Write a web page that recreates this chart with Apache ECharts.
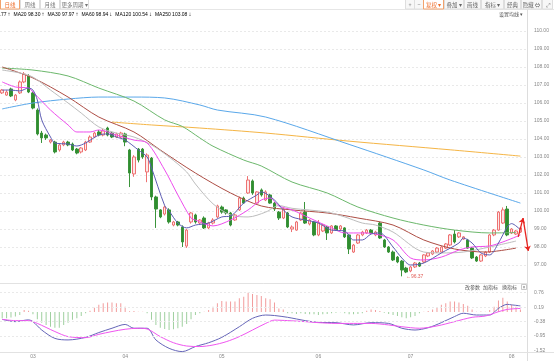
<!DOCTYPE html>
<html><head><meta charset="utf-8">
<script src="https://cdn.jsdelivr.net/npm/echarts@6/dist/echarts.min.js"></script>
<style>html,body{margin:0;padding:0;background:#fff;overflow:hidden}#c{width:554px;height:361px}</style>
</head><body><div id="c"></div>
<script>
// ---------- DATA ----------
const N = 120; // category slots (last one empty)
const opens  = [106.56,106.44,106.78,106.17,106.56,107.17,107.50,106.56,105.61,104.33,104.22,103.83,103.83,103.39,103.67,103.83,103.72,103.44,103.28,103.39,103.83,104.11,104.39,104.22,104.61,104.33,104.11,104.11,104.28,103.39,102.06,103.44,103.44,102.17,102.94,100.78,100.06,99.83,100.06,99.22,99.39,99.11,98.05,99.39,99.78,99.33,99.61,99.06,99.33,99.67,100.22,100.06,99.89,99.50,100.06,100.72,101.00,101.67,100.44,101.17,100.61,100.89,100.44,99.94,99.61,99.89,99.00,98.94,99.50,99.94,99.28,99.39,98.67,98.89,99.11,98.78,99.17,99.00,99.06,98.67,97.72,98.22,98.67,98.78,98.94,98.67,99.33,98.39,98.00,97.72,97.44,97.22,96.83,96.67,96.89,97.11,97.17,97.50,97.61,97.72,97.72,97.94,98.11,98.72,98.56,98.44,98.39,97.94,97.44,97.22,97.50,97.72,98.67,98.94,99.33,100.11,98.78,98.72,98.83];
const closes = [106.72,106.61,106.39,106.44,107.17,107.61,106.61,105.72,104.28,104.06,104.06,103.94,103.28,103.67,103.83,103.67,103.39,103.22,103.50,103.83,104.11,104.33,104.22,104.45,104.22,104.11,104.28,104.33,103.83,102.11,103.00,102.83,103.00,103.11,100.78,100.11,99.67,100.22,99.39,99.39,99.22,98.28,98.94,99.89,99.39,99.50,99.06,99.33,99.50,100.28,99.94,99.89,99.22,99.78,100.72,100.44,101.72,101.00,101.06,100.89,101.06,100.44,100.11,99.61,100.11,99.11,99.11,99.39,99.89,99.33,99.50,98.67,99.33,99.22,98.78,99.17,98.94,99.17,98.56,97.89,98.11,98.67,98.83,98.94,98.78,98.83,98.50,98.00,97.72,97.28,97.17,96.72,96.61,96.89,97.11,96.94,97.56,97.67,97.78,97.94,98.00,98.17,98.67,98.28,98.78,98.56,97.94,97.39,97.22,97.56,97.72,98.67,98.94,99.94,100.06,98.67,99.00,98.89,99.06];
const lows   = [106.50,106.40,106.33,106.10,106.50,107.10,106.55,105.65,104.20,103.78,103.95,103.75,103.20,103.30,103.60,103.60,103.33,103.15,103.20,103.33,103.78,104.05,104.15,104.15,104.15,104.05,104.05,104.05,103.60,101.33,101.90,102.70,102.90,101.60,100.60,99.06,99.60,99.75,99.30,99.15,99.15,98.00,97.95,99.30,99.30,99.25,99.00,99.00,99.25,99.60,99.85,99.80,99.15,99.45,100.00,100.40,100.95,100.90,100.40,100.80,100.55,100.40,100.00,99.50,99.55,99.05,98.83,98.90,99.45,99.28,99.20,98.60,98.60,98.83,98.39,98.72,98.90,98.94,98.50,97.61,97.67,98.17,98.60,98.72,98.72,98.60,98.45,97.95,97.67,97.22,97.10,96.37,96.55,96.60,96.83,96.89,97.10,97.44,97.55,97.67,97.67,97.89,98.05,98.20,98.50,98.40,97.90,97.33,97.17,97.17,97.44,97.67,98.60,98.90,99.28,98.60,98.72,98.67,98.78];
const highs  = [106.78,106.70,106.85,106.50,107.25,107.72,107.60,106.65,105.70,104.45,104.30,104.00,103.90,103.75,103.90,103.90,103.80,103.50,103.55,103.90,104.20,104.40,104.50,104.56,104.68,104.40,104.35,104.40,104.35,103.45,103.10,103.50,103.50,103.20,103.00,100.85,100.10,100.30,100.15,99.45,99.45,99.20,99.00,99.95,99.85,99.55,99.70,99.40,99.60,100.35,100.30,100.10,99.95,99.85,100.80,100.80,101.94,101.75,101.10,101.25,101.15,100.95,100.50,100.00,100.15,99.95,99.20,99.45,99.95,100.50,99.55,99.45,99.50,99.28,99.17,99.22,99.22,99.22,99.10,98.72,98.17,98.72,98.90,99.00,99.00,98.90,99.40,98.45,98.05,97.80,97.50,97.28,96.90,96.95,97.17,97.17,97.60,97.72,97.83,98.00,98.05,98.22,98.72,98.94,98.83,98.60,98.45,98.00,97.50,97.60,97.78,98.72,99.00,100.00,100.20,100.28,99.05,98.95,99.10];

// moving averages: [candle index, value]
const ma5   = [[0,106.72],[2,106.72],[4,106.67],[6,106.83],[7,106.72],[8,106.17],[9,105.06],[11,104.11],[12,103.78],[15,103.72],[17,103.61],[19,103.78],[22,104.22],[24,104.28],[26,104.11],[28,103.94],[31,103.39],[33,103.0],[34,102.4],[37,100.3],[38,100.0],[40,99.33],[42,99.06],[44,99.22],[47,99.33],[50,99.67],[52,99.72],[55,100.44],[58,100.89],[59,101.06],[62,100.61],[64,100.06],[66,99.67],[69,99.5],[72,99.33],[75,98.94],[78,98.89],[80,98.39],[82,98.39],[84,98.72],[86,98.78],[89,98.0],[91,97.39],[93,97.0],[96,97.11],[100,97.67],[104,98.22],[105,98.5],[107,98.22],[109,97.67],[111,97.56],[113,98.22],[115,99.11],[116,99.3],[118,98.95]];
const ma10  = [[0,107.17],[3,106.89],[6,106.83],[7,106.61],[11,105.61],[15,104.78],[17,104.39],[20,104.39],[22,104.5],[26,104.22],[30,103.94],[33,103.78],[37,102.28],[40,100.89],[43,99.61],[44,99.5],[48,99.17],[52,99.5],[56,100.06],[59,100.61],[61,100.72],[63,100.28],[66,100.06],[70,99.61],[75,99.06],[78,98.78],[82,98.78],[85,98.72],[89,98.39],[93,97.39],[96,97.28],[100,97.44],[104,97.83],[107,98.0],[111,98.06],[114,98.28],[118,98.67]];
const ma20  = [[0,107.83],[4,107.67],[7,107.44],[11,106.72],[15,106.0],[18,105.44],[22,104.67],[26,104.33],[30,104.11],[34,103.67],[38,103.0],[42,102.17],[44,101.5],[48,100.4],[52,99.78],[56,99.67],[60,99.94],[63,100.3],[66,100.15],[74,99.94],[78,99.67],[82,99.33],[85,99.22],[89,98.83],[96,97.72],[100,97.67],[105,97.72],[111,98.0],[117,98.33]];
const ma30  = [[0,108.0],[7,107.39],[15,106.33],[22,105.22],[30,104.39],[36,103.39],[44,102.11],[52,101.0],[59,100.28],[66,100.06],[74,99.89],[81,99.61],[89,99.22],[96,98.39],[103,97.89],[110,97.72],[117,97.94]];
const ma60  = [[0,107.94],[7,107.83],[15,107.5],[22,106.83],[30,106.11],[37,105.06],[41,104.7],[45,104.06],[48,103.6],[55,102.83],[59,102.5],[66,101.61],[74,101.0],[81,100.22],[89,99.61],[96,99.22],[103,98.94],[111,98.78],[117,98.8]];
const ma120 = [[0,105.67],[7,106.0],[15,106.22],[22,106.33],[30,106.33],[37,106.28],[45,105.89],[49,105.61],[60,105.22],[79,103.7],[96,102.28],[102,101.72],[118,100.44]];
const ma250 = [[25,104.94],[34,104.78],[45,104.61],[60,104.33],[79,103.88],[102,103.4],[118,103.05]];

// legend (latest MA values shown in the header)
const legendNames  = ['MA10','MA20','MA30','MA60','MA120','MA250'];
const legendValues = [98.77, 98.30, 97.97, 98.94, 100.54, 103.08];
const legendDirs   = ['↑','↑','↑','↓','↓','↓'];

// MACD
const macdHist = [-0.25,-0.25,-0.22,-0.18,-0.12,0.08,0.05,-0.09,-0.29,-0.42,-0.51,-0.58,-0.62,-0.62,-0.51,-0.42,-0.31,-0.25,-0.16,-0.05,0.05,0.17,0.28,0.34,0.37,0.37,0.34,0.34,0.21,0.03,0.04,0.01,0.01,-0.05,-0.31,-0.51,-0.62,-0.67,-0.71,-0.68,-0.64,-0.58,-0.47,-0.29,-0.12,-0.05,0.01,0.08,0.21,0.34,0.43,0.41,0.41,0.41,0.54,0.60,0.76,0.71,0.67,0.63,0.54,0.50,0.37,0.14,0.10,-0.05,-0.05,-0.08,-0.05,-0.08,-0.09,-0.09,-0.12,-0.09,-0.08,-0.05,-0.03,-0.01,-0.05,-0.09,-0.09,-0.08,-0.05,0.05,0.10,0.08,0.04,-0.03,-0.08,-0.12,-0.16,-0.21,-0.25,-0.21,-0.16,-0.05,0.01,0.04,0.10,0.18,0.28,0.34,0.41,0.41,0.37,0.31,0.24,0.10,0.01,0.02,0.01,0.08,0.21,0.45,0.56,0.41,0.28,0.21,0.10];
const dif = [[0,-0.29],[3,-0.38],[6,-0.31],[7,-0.38],[9,-0.71],[12,-1.04],[15,-1.10],[19,-1.0],[22,-0.81],[25,-0.64],[28,-0.49],[30,-0.64],[33,-0.64],[35,-1.10],[38,-1.43],[41,-1.56],[44,-1.36],[47,-1.21],[50,-1.0],[54,-0.58],[57,-0.25],[60,-0.12],[62,-0.14],[65,-0.21],[69,-0.34],[72,-0.41],[76,-0.42],[80,-0.51],[84,-0.42],[88,-0.45],[91,-0.64],[94,-0.71],[97,-0.62],[100,-0.42],[103,-0.18],[105,-0.05],[108,-0.12],[111,-0.12],[113,0.14],[115,0.30],[116,0.28],[118,0.24]];
const dea = [[0,-0.29],[3,-0.34],[6,-0.34],[8,-0.45],[12,-0.77],[15,-0.97],[19,-1.01],[22,-0.88],[25,-0.77],[28,-0.68],[31,-0.64],[33,-0.67],[36,-0.97],[39,-1.21],[42,-1.34],[45,-1.36],[48,-1.30],[51,-1.17],[54,-0.97],[57,-0.71],[60,-0.45],[62,-0.32],[65,-0.34],[69,-0.38],[72,-0.42],[76,-0.45],[80,-0.45],[84,-0.45],[88,-0.51],[91,-0.58],[95,-0.64],[99,-0.55],[103,-0.38],[107,-0.21],[110,-0.16],[113,0.01],[115,0.10],[118,0.14]];
const macdTicks = [0.76, 0.19, -0.38, -0.95, -1.52];

// x-axis month labels
const monthIdx = [7, 28, 50, 72, 93, 116];
const monthLabels = ['03','04','05','06','07','08'];

// hand-drawn red arrow (candle-index position, price)
const arrowX = [117.5, 118.6, 119.8];
const arrowY = [98.56, 99.6, 97.78];

// toolbar texts
const leftTabs = ['日线','周线','月线','更多周期 ▾'];
const rightTools = ['+','−','复权 ▾','叠加 ▾','画线','指标 ▾','经典','隐藏 ⇔','⤢'];
const bottomTools = ['改参数','加指标','换指标'];

// ---------- CHART ----------
const FONT = '"Liberation Sans", Arial, "Noto Sans CJK SC", sans-serif';
const CJK = '"Noto Sans CJK SC", "Liberation Sans", sans-serif';
const categories = opens.map((_, i) => String(i)).concat(['e']);
const maColors = {ma5:'#5d5db3', ma10:'#ee4cee', ma20:'#bdbdbd', ma30:'#ad4d44', ma60:'#6cb86c', ma120:'#5aa8ea', ma250:'#f5b545'};
const legendColors = ['#e040e0','#999999','#a0403a','#3f9a3f','#3d8fe0','#f0a020'];

function maSeries(name, data, color) {
  return {name, type:'line', xAxisIndex:0, yAxisIndex:0, data, smooth:0.3, symbol:'none',
    lineStyle:{color, width:1}, silent:true, z:3};
}

const rich = {};
let legendStr = '';
legendNames.forEach((n, k) => {
  rich['m'+k] = {color: legendColors[k], fontSize:5, fontFamily: FONT};
  rich['a'+k] = {color: legendColors[k], fontSize:6, fontFamily: FONT, padding:[0,3,0,1]};
  legendStr += `{m${k}|${n} ${legendValues[k].toFixed(2)}}{a${k}|${legendDirs[k]}}`;
});

const graphics = [];
// toolbar bottom line & right axis line & pane separators
graphics.push({type:'line', shape:{x1:0,y1:9.5,x2:554,y2:9.5}, style:{stroke:'#e6e6e6', lineWidth:1}, silent:true});
graphics.push({type:'line', shape:{x1:527.5,y1:9.5,x2:527.5,y2:361}, style:{stroke:'#dddddd', lineWidth:1}, silent:true});
graphics.push({type:'line', shape:{x1:0,y1:283.5,x2:527.5,y2:283.5}, style:{stroke:'#e2e2e2', lineWidth:1}, silent:true});
graphics.push({type:'line', shape:{x1:0,y1:352.5,x2:554,y2:352.5}, style:{stroke:'#e2e2e2', lineWidth:1}, silent:true});
const tabX = [0,20,40,60], tabW = [19,19,19,28];
leftTabs.forEach((t, k) => {
  const act = k === 0;
  graphics.push({type:'rect', shape:{x:tabX[k]+0.5, y:-1, width:tabW[k], height:10}, style:{fill:'#fff', stroke: act ? '#f2a26c' : '#dedede', lineWidth:1}, silent:true});
  graphics.push({type:'text', x: tabX[k] + tabW[k]/2 + 0.5, y: 4.5, style:{text:t, align:'center', verticalAlign:'middle', fontSize:5.5, fontFamily:CJK, fill: act ? '#ef6f2c' : '#777'}, silent:true});
});
const toolX = [405,414,423,444,464,481,504,521,542], toolW = [9,9,20,19,16,22,16,20,10];
rightTools.forEach((t, k) => {
  const act = k === 2;
  graphics.push({type:'rect', shape:{x:toolX[k]+0.5, y:-1, width:toolW[k], height:10}, style:{fill: act ? '#fff' : '#f7f7f7', stroke: act ? '#f2a26c' : '#dedede', lineWidth:1}, silent:true});
  graphics.push({type:'text', x: toolX[k] + toolW[k]/2 + 0.5, y: 4.5, style:{text:t, align:'center', verticalAlign:'middle', fontSize:5.5, fontFamily:CJK, fill: act ? '#ef6f2c' : '#666'}, silent:true});
});
// legend line
graphics.push({type:'text', x:-20.5, y:14.5, style:{text:legendStr, rich, verticalAlign:'middle', fontSize:5, fontFamily:FONT}, silent:true});
graphics.push({type:'text', x:523, y:14.5, style:{text:'设置均线 ▾', align:'right', verticalAlign:'middle', fontSize:5, fontFamily:CJK, fill:'#555'}, silent:true});
// indicator controls
const btX = [465, 483, 502];
bottomTools.forEach((t, k) => {
  graphics.push({type:'text', x:btX[k], y:287.5, style:{text:t, verticalAlign:'middle', fontSize:5, fontFamily:CJK, fill:'#555'}, silent:true});
});
graphics.push({type:'rect', shape:{x:521.5, y:284.5, width:5, height:5}, style:{fill:'#fff', stroke:'#bbb', lineWidth:0.8}, silent:true});
graphics.push({type:'text', x:524, y:287.2, style:{text:'×', align:'center', verticalAlign:'middle', fontSize:5, fontFamily:FONT, fill:'#777'}, silent:true});

const option = {
  animation: false,
  backgroundColor: '#ffffff',
  textStyle: {fontFamily: FONT},
  grid: [
    {left:0, right:27, top:20, height:263},
    {left:0, right:27, top:283, height:69}
  ],
  xAxis: [
    {type:'category', gridIndex:0, data:categories, boundaryGap:true, axisLine:{show:false}, axisTick:{show:false}, axisLabel:{show:false}, splitLine:{show:false}},
    {type:'category', gridIndex:1, data:categories, boundaryGap:true, axisLine:{show:false}, axisTick:{show:false}, splitLine:{show:false},
      axisLabel:{interval:(i) => monthIdx.indexOf(i) >= 0, formatter:(v, i) => { const k = monthIdx.indexOf(i); return k >= 0 ? monthLabels[k] : ''; }, fontSize:5, color:'#888', margin:2, fontFamily:FONT}},
    {type:'value', gridIndex:0, min:-0.5, max:N-0.5, show:false}
  ],
  yAxis: [
    {type:'value', gridIndex:0, position:'right', min:96, max:110.611, interval:1, scale:true,
      axisLine:{show:false}, axisTick:{show:false},
      axisLabel:{fontSize:5, color:'#888', margin:7, fontFamily:FONT, formatter:(v) => v.toFixed(2), showMinLabel:false, showMaxLabel:false},
      splitLine:{show:true, showMinLine:false, showMaxLine:false, lineStyle:{color:'#e9e9e9', type:[2,2], width:1}}},
    {type:'value', gridIndex:1, position:'right', min:-1.575, max:1.14,
      axisLine:{show:false}, axisTick:{show:false}, splitLine:{show:false},
      axisLabel:{customValues:macdTicks, fontSize:5, color:'#888', margin:7, fontFamily:FONT, formatter:(v) => v.toFixed(2)}}
  ],
  graphic: graphics,
  series: [
    {name:'K', type:'candlestick', xAxisIndex:0, yAxisIndex:0, barWidth:3,
      data: opens.map((o, i) => [o, closes[i], lows[i], highs[i]]),
      itemStyle:{color:'#fde8e8', color0:'#2f8d2f', borderColor:'#ee7272', borderColor0:'#3b943b', borderWidth:1},
      markPoint:{symbol:'circle', symbolSize:0.1, silent:true,
        data:[{type:'min', valueDim:'lowest', name:'low'}],
        label:{show:true, position:'right', distance:4, fontSize:5, fontFamily:FONT, color:'#e0605a', formatter:(p) => '←' + Number(p.value).toFixed(2)}}},
    maSeries('MA250', ma250, maColors.ma250),
    maSeries('MA120', ma120, maColors.ma120),
    maSeries('MA60', ma60, maColors.ma60),
    maSeries('MA30', ma30, maColors.ma30),
    maSeries('MA20', ma20, maColors.ma20),
    maSeries('MA10', ma10, maColors.ma10),
    maSeries('MA5', ma5, maColors.ma5),
    {name:'arrow', type:'lines', coordinateSystem:'cartesian2d', xAxisIndex:2, yAxisIndex:0, clip:false, z:5,
      symbol:['none','arrow'], symbolSize:5, silent:true,
      lineStyle:{color:'#e8231f', width:1.3, opacity:1},
      data:[{coords:[[arrowX[0], arrowY[0]],[arrowX[1], arrowY[1]]]},{coords:[[arrowX[1], arrowY[1]],[arrowX[2], arrowY[2]]]}]},
    {name:'MACD', type:'bar', xAxisIndex:1, yAxisIndex:1, barWidth:1, data:macdHist, silent:true,
      itemStyle:{color:(p) => p.value >= 0 ? '#f29c9c' : '#9fd09f'},
      markLine:{silent:true, symbol:'none', label:{show:false}, lineStyle:{color:'#e9e9e9', type:[2,2], width:1},
        data: macdTicks.slice(0, 4).map(v => ({yAxis:v}))}},
    {name:'DIF', type:'line', xAxisIndex:1, yAxisIndex:1, data:dif, smooth:0.3, symbol:'none', lineStyle:{color:'#6565b8', width:1}, silent:true},
    {name:'DEA', type:'line', xAxisIndex:1, yAxisIndex:1, data:dea, smooth:0.3, symbol:'none', lineStyle:{color:'#f055f0', width:1}, silent:true}
  ]
};
const chart = echarts.init(document.getElementById('c'), null, {renderer:'canvas', width:554, height:361});
chart.setOption(option);
</script></body></html>
